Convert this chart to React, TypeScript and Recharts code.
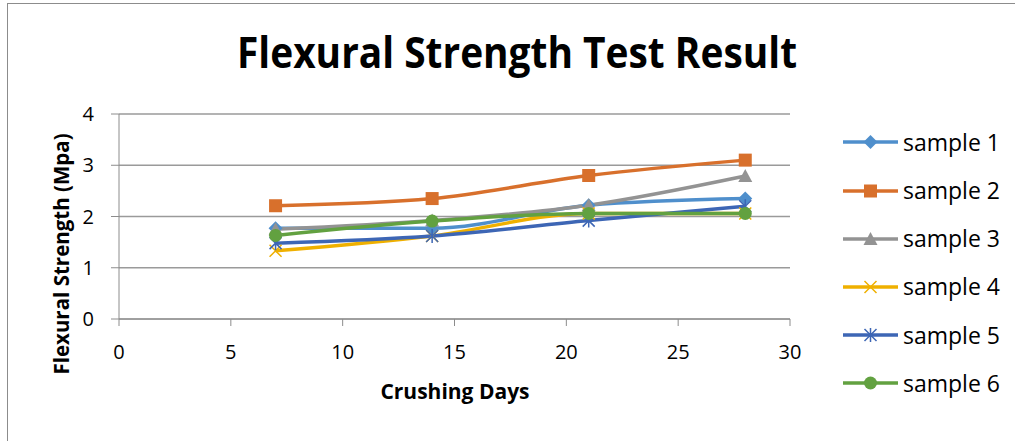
import { LineChart, Line, XAxis, YAxis, CartesianGrid } from 'recharts';

const days = [7, 14, 21, 28];
const sample1 = [1.77, 1.77, 2.22, 2.35];
const sample2 = [2.21, 2.35, 2.8, 3.1];
const sample3 = [1.75, 1.92, 2.22, 2.79];
const sample4 = [1.33, 1.62, 2.06, 2.06];
const sample5 = [1.48, 1.62, 1.92, 2.2];
const sample6 = [1.63, 1.91, 2.06, 2.06];
const xTicks = [0, 5, 10, 15, 20, 25, 30];
const yTicks = [0, 1, 2, 3, 4];

const FONT = '"Open Sans", sans-serif';

type Marker = 'diamond' | 'square' | 'triangle' | 'x' | 'star' | 'circle';

const SERIES: { key: string; name: string; color: string; marker: Marker; values: number[] }[] = [
  { key: 's1', name: 'sample 1', color: '#4f8fcc', marker: 'diamond', values: sample1 },
  { key: 's2', name: 'sample 2', color: '#d8702c', marker: 'square', values: sample2 },
  { key: 's3', name: 'sample 3', color: '#939393', marker: 'triangle', values: sample3 },
  { key: 's4', name: 'sample 4', color: '#efb000', marker: 'x', values: sample4 },
  { key: 's5', name: 'sample 5', color: '#3d66b5', marker: 'star', values: sample5 },
  { key: 's6', name: 'sample 6', color: '#62a140', marker: 'circle', values: sample6 },
];

const data = days.map((d, i) => {
  const row: Record<string, number> = { day: d };
  SERIES.forEach((s) => (row[s.key] = s.values[i]));
  return row;
});

function MarkerShape({ cx, cy, marker, color }: { cx: number; cy: number; marker: Marker; color: string }) {
  switch (marker) {
    case 'diamond':
      return <path d={`M${cx},${cy - 7}L${cx + 7},${cy}L${cx},${cy + 7}L${cx - 7},${cy}Z`} fill={color} />;
    case 'square':
      return <rect x={cx - 6.5} y={cy - 6.5} width={13} height={13} fill={color} />;
    case 'triangle':
      return <path d={`M${cx},${cy - 7}L${cx + 7},${cy + 6}L${cx - 7},${cy + 6}Z`} fill={color} />;
    case 'x':
      return (
        <path
          d={`M${cx - 6},${cy - 6}L${cx + 6},${cy + 6}M${cx + 6},${cy - 6}L${cx - 6},${cy + 6}`}
          stroke={color}
          strokeWidth={1.5}
          fill="none"
        />
      );
    case 'star':
      return (
        <path
          d={`M${cx - 6},${cy - 6}L${cx + 6},${cy + 6}M${cx + 6},${cy - 6}L${cx - 6},${cy + 6}M${cx},${cy - 7}L${cx},${cy + 7}`}
          stroke={color}
          strokeWidth={1.5}
          fill="none"
        />
      );
    default:
      return <circle cx={cx} cy={cy} r={6.5} fill={color} />;
  }
}

export default function App() {
  return (
    <div style={{ position: 'absolute', left: 0, top: 0, width: 1015, height: 441, background: '#fff', fontFamily: FONT }}>
      <div
        style={{
          position: 'absolute',
          left: 7,
          top: 3,
          width: 1012,
          height: 440,
          border: '1px solid #8c8c8c',
          boxSizing: 'border-box',
        }}
      />
      <svg width={1015} height={100} style={{ position: 'absolute', left: 0, top: 0 }}>
        <text
          x={517}
          y={68}
          textAnchor="middle"
          fontFamily={FONT}
          fontWeight={700}
          fontSize={43}
          textLength={560}
          lengthAdjust="spacingAndGlyphs"
          fill="#000"
        >
          Flexural Strength Test Result
        </text>
      </svg>
      <LineChart
        width={1015}
        height={441}
        data={data}
        margin={{ top: 114, right: 225, bottom: 62, left: 0 }}
        style={{ position: 'absolute', left: 0, top: 0 }}
      >
        <CartesianGrid vertical={false} stroke="#9a9a9a" strokeWidth={1.3} />
        <XAxis
          dataKey="day"
          type="number"
          domain={[0, 30]}
          ticks={xTicks}
          height={60}
          tickSize={7}
          tickMargin={19}
          stroke="#8c8c8c"
          tick={{ fill: '#000', fontSize: 20, fontFamily: FONT }}
          label={{
            content: () => (
              <text x={455} y={399} textAnchor="middle" fontFamily={FONT} fontWeight={700} fontSize={21} fill="#000">
                Crushing Days
              </text>
            ),
          }}
        />
        <YAxis
          type="number"
          domain={[0, 4]}
          ticks={yTicks}
          width={119}
          tickSize={8}
          tickMargin={17}
          stroke="#8c8c8c"
          tick={{ fill: '#000', fontSize: 20, fontFamily: FONT }}
          label={{
            content: () => (
              <text
                x={61}
                y={254}
                transform="rotate(-90 61 254)"
                textAnchor="middle"
                dominantBaseline="central"
                fontFamily={FONT}
                fontWeight={700}
                fontSize={20.5}
                fill="#000"
              >
                Flexural Strength (Mpa)
              </text>
            ),
          }}
        />
        {SERIES.map((s) => (
          <Line
            key={s.key}
            dataKey={s.key}
            name={s.name}
            type="monotone"
            stroke={s.color}
            strokeWidth={3.5}
            isAnimationActive={false}
            dot={(p: any) => <MarkerShape key={`${s.key}-${p.index}`} cx={p.cx} cy={p.cy} marker={s.marker} color={s.color} />}
            activeDot={false}
          />
        ))}
      </LineChart>
      <div style={{ position: 'absolute', left: 843, top: 142.3 - 24, width: 170 }}>
        {SERIES.map((s) => (
          <div key={s.key} style={{ display: 'flex', alignItems: 'center', height: 48.2 }}>
            <svg width={55} height={20} style={{ flex: 'none' }}>
              <line x1={0} y1={10} x2={55} y2={10} stroke={s.color} strokeWidth={3.5} />
              <MarkerShape cx={27.5} cy={10} marker={s.marker} color={s.color} />
            </svg>
            <span style={{ marginLeft: 5, fontSize: 23, color: '#000', lineHeight: 1, whiteSpace: 'nowrap' }}>{s.name}</span>
          </div>
        ))}
      </div>
    </div>
  );
}
